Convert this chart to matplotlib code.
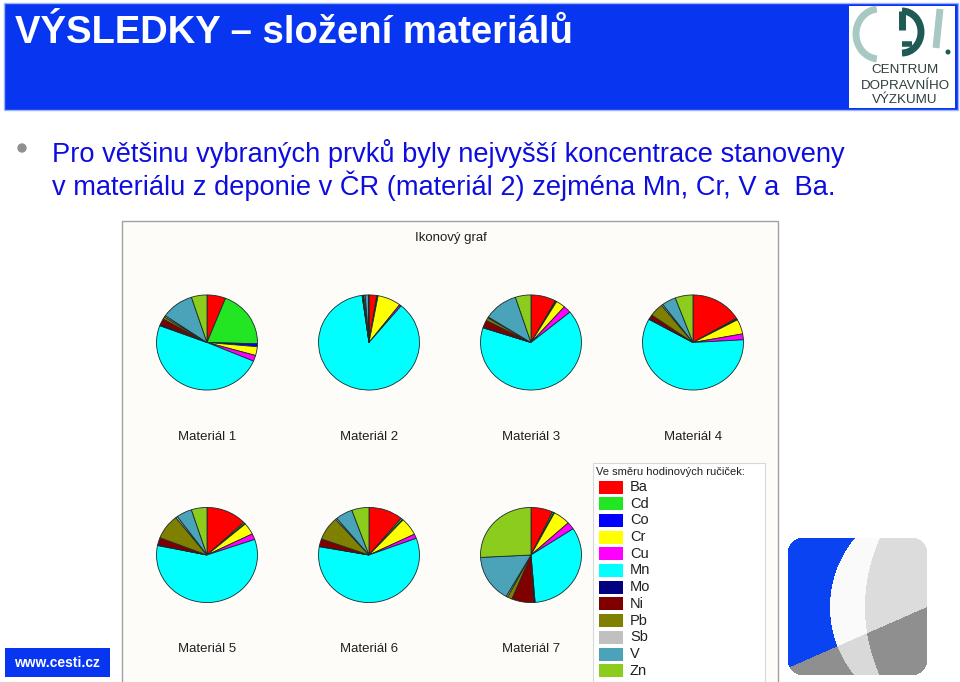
import numpy as np
import matplotlib
matplotlib.use('Agg')
import matplotlib.pyplot as plt
from matplotlib.patches import Rectangle, Arc, Circle

plt.rcParams['font.family'] = ['Liberation Sans', 'DejaVu Sans']

# data (% of each element, clockwise from 12 o'clock)
elements = ['Ba', 'Cd', 'Co', 'Cr', 'Cu', 'Mn', 'Mo', 'Ni', 'Pb', 'Sb', 'V', 'Zn']
el_colors = ['#ff0000', '#22e622', '#0000ff', '#ffff00', '#ff00ff', '#00ffff',
             '#000080', '#800000', '#808000', '#c0c0c0', '#4aa3b8', '#8ccc1c']
materials = ['Materiál 1', 'Materiál 2', 'Materiál 3', 'Materiál 4',
             'Materiál 5', 'Materiál 6', 'Materiál 7']
m1 = [6, 19.5, 1, 3, 2, 49.5, 0.5, 2, 0.8, 0.5, 10.5, 5]
m2 = [2.5, 0.2, 0.2, 7.5, 0.6, 87, 0.1, 0.3, 0.2, 0.4, 1.0, 0.2]
m3 = [8, 0.3, 0.2, 3, 2.5, 66, 0.2, 2.5, 1, 0.3, 11, 5]
m4 = [16.5, 0.3, 0.3, 5, 2, 59, 0.2, 1.5, 4.5, 0.5, 4.5, 5.7]
m5 = [13, 0.5, 0.2, 4, 2, 58.5, 0.2, 2.5, 8.5, 0.6, 5, 5]
m6 = [11, 0.6, 0.2, 6, 1.5, 58.5, 0.2, 2.5, 8, 0.5, 5.5, 5.5]
m7 = [7, 0.5, 0.2, 5.5, 2.5, 33, 0.5, 7, 1.5, 0.5, 16, 25.8]
values = [m1, m2, m3, m4, m5, m6, m7]

W, H = 960, 682
fig = plt.figure(figsize=(W / 100, H / 100), dpi=100)
fig.patch.set_facecolor('white')
ax = fig.add_axes([0, 0, 1, 1])
ax.set_xlim(0, W)
ax.set_ylim(H, 0)
ax.axis('off')

# header bar
blue = '#0836f0'
ax.add_patch(Rectangle((4, 3), 954, 107, facecolor=blue, edgecolor='#9fb4ff', lw=1))
ax.text(15, 33, 'VÝSLEDKY – složení materiálů', color='white', fontsize=27.5,
        fontweight='bold', va='center', ha='left')

# CDV logo (top right)
ax.add_patch(Rectangle((849, 6), 106, 102, facecolor='white', edgecolor='none'))
ax.add_patch(Arc((879, 34), 46, 50, theta1=95, theta2=265, color='#a8c8c4', lw=5))
ax.add_patch(Arc((902, 32), 38, 42, theta1=-90, theta2=90, color='#1f5a55', lw=5))
ax.plot([902, 902], [11, 30], color='#1f5a55', lw=5, solid_capstyle='butt')
ax.plot([902, 912], [44, 44], color='#1f5a55', lw=4, solid_capstyle='butt')
ax.plot([940, 936], [9, 48], color='#a8c8c4', lw=5, solid_capstyle='butt')
ax.add_patch(Circle((948, 52), 1.8, color='#1f5a55'))
for txt, yy in [('CENTRUM', 70), ('DOPRAVNÍHO', 86), ('VÝZKUMU', 100)]:
    ax.text(905, yy, txt, color='#2e3d3d', fontsize=9.6, ha='center', va='center')

# bullet text
ax.add_patch(Circle((22, 148), 4, color='#909090'))
txt_col = '#0d0de0'
ax.text(52, 153, 'Pro většinu vybraných prvků byly nejvyšší koncentrace stanoveny',
        color=txt_col, fontsize=19.6, va='center', ha='left')
ax.text(52, 186, 'v materiálu z deponie v ČR (materiál 2) zejména Mn, Cr, V a  Ba.',
        color=txt_col, fontsize=19.6, va='center', ha='left')

# chart frame
ax.add_patch(Rectangle((122, 221), 656, 470, facecolor='#fdfcf8', edgecolor='#a0a0a0', lw=1))
ax.text(451, 238, 'Ikonový graf', fontsize=9.5, ha='center', va='center', color='#202020')

# pies
cxs = [207, 369, 531, 693, 207, 369, 531]
cys = [342.5, 342.5, 342.5, 342.5, 555, 555, 555]
rx, ry = 50.5, 47.5
for name, vals, cx, cy in zip(materials, values, cxs, cys):
    pax = fig.add_axes([(cx - rx - 1) / W, (H - cy - ry - 1) / H,
                        (2 * rx + 2) / W, (2 * ry + 2) / H])
    pax.pie(vals, colors=el_colors, startangle=90, counterclock=False,
            wedgeprops=dict(edgecolor='#1a2a2a', linewidth=0.6))
    pax.set_aspect('auto')
    pax.set_xlim(-1.02, 1.02)
    pax.set_ylim(-1.02, 1.02)
    pax.axis('off')
    ax.text(cx, cy + 94.5, name, fontsize=9.5, ha='center', va='center', color='#202020')

# legend
ax.add_patch(Rectangle((593, 463), 172, 230, facecolor='white', edgecolor='#d8d8d8', lw=0.8))
ax.text(596, 472, 'Ve směru hodinových ručiček:', fontsize=8, ha='left', va='center',
        color='#202020')
for i, (el, c) in enumerate(zip(elements, el_colors)):
    yy = 487 + i * 16.7
    ax.add_patch(Rectangle((599, yy - 6.5), 24, 13, facecolor=c, edgecolor='none'))
    ax.text(630, yy, el, fontsize=10.5, ha='left', va='center', color='#202020')

# bottom-left web address
ax.add_patch(Rectangle((5, 648), 105, 29, facecolor=blue, edgecolor='none'))
ax.text(57, 663, 'www.cesti.cz', color='white', fontsize=10, fontweight='bold',
        ha='center', va='center')

# bottom-right logo as small raster
x0, x1, y0, y1 = 788, 927, 538, 675
xx, yy = np.meshgrid(np.arange(x0, x1) + 0.5, np.arange(y0, y1) + 0.5)
img = np.zeros(xx.shape + (4,))
above = yy < 668 - (xx - x0) * (61 / 139)
in_out = np.hypot(xx - 938, yy - 607) < 108
in_in = np.hypot(xx - 1031, yy - 607) < 166
def rgb(h):
    return [int(h[i:i + 2], 16) / 255 for i in (1, 3, 5)]
regions = [
    (above & ~in_out, '#0a44f2'),
    (above & in_out & ~in_in, '#fafafa'),
    (above & in_in, '#dcdcdc'),
    (~above & ~in_out, '#8f8f8f'),
    (~above & in_out & ~in_in, '#d9d9d9'),
    (~above & in_in, '#8f8f8f'),
]
for mask, col in regions:
    img[mask, :3] = rgb(col)
    img[mask, 3] = 1
rr = 14
cxr = np.clip(xx, x0 + rr, x1 - rr)
cyr = np.clip(yy, y0 + rr, y1 - rr)
img[np.hypot(xx - cxr, yy - cyr) > rr, 3] = 0
ax.imshow(img, extent=[x0, x1, y1, y0], interpolation='bilinear', zorder=2)
ax.set_xlim(0, W)
ax.set_ylim(H, 0)
ax.set_aspect('auto')

fig.savefig('out.png', dpi=100)
